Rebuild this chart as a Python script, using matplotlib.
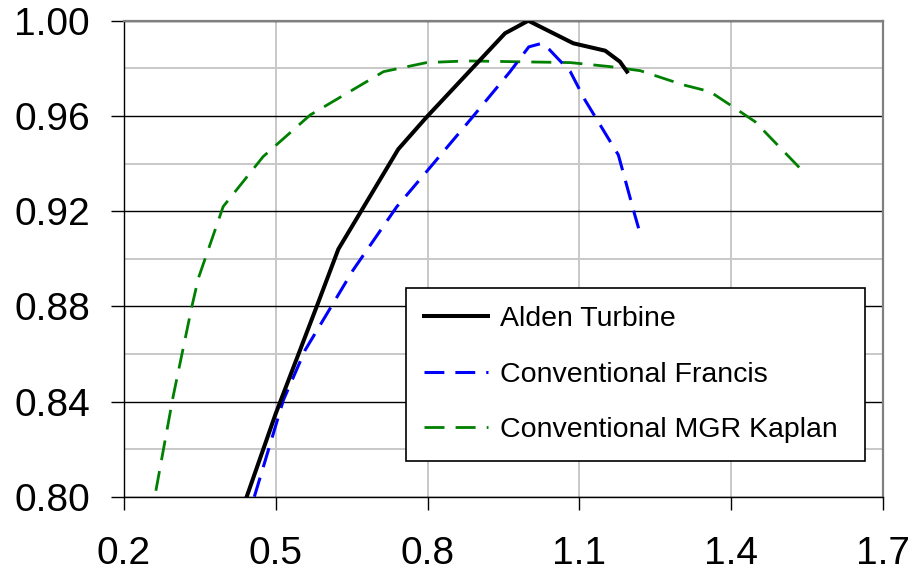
import matplotlib
matplotlib.use("Agg")
import matplotlib.pyplot as plt
from matplotlib.ticker import MultipleLocator

plt.rcParams['font.family'] = ['Liberation Sans', 'DejaVu Sans']

# Alden Turbine
alden_x = [0.4425, 0.50, 0.581, 0.6236, 0.742, 0.798, 0.953, 0.999, 1.088, 1.151, 1.180, 1.194]
alden_y = [0.800, 0.835, 0.880, 0.904, 0.946, 0.9595, 0.9947, 1.000, 0.9905, 0.9874, 0.9828, 0.9786]

# Conventional Francis
francis_x = [0.4576, 0.515, 0.558, 0.653, 0.739, 0.798, 0.884, 0.963, 1.000, 1.026, 1.040,
             1.082, 1.111, 1.177, 1.210, 1.217]
francis_y = [0.800, 0.8406, 0.8616, 0.8953, 0.9218, 0.9366, 0.9583, 0.9786, 0.989, 0.9905, 0.988,
             0.9786, 0.9667, 0.9436, 0.918, 0.9128]

# Conventional MGR Kaplan
kaplan_x = [0.263, 0.297, 0.334, 0.347, 0.396, 0.475, 0.568, 0.713, 0.798, 0.877, 1.082,
            1.161, 1.220, 1.306, 1.358, 1.398, 1.447, 1.536]
kaplan_y = [0.8025, 0.842, 0.8798, 0.8918, 0.9219, 0.9429, 0.9604, 0.9786, 0.9824, 0.9831, 0.9824,
            0.9807, 0.979, 0.973, 0.9702, 0.9646, 0.9576, 0.938]

xticks = [0.2, 0.5, 0.8, 1.1, 1.4, 1.7]
yticks = [0.80, 0.84, 0.88, 0.92, 0.96, 1.00]

fig = plt.figure(figsize=(9.13, 5.74), dpi=100)
ax = fig.add_axes([124 / 913, 1 - 496.7 / 574, 759 / 913, 476 / 574])

ax.plot(alden_x, alden_y, color='black', lw=2.9, label='Alden Turbine', zorder=5)
ax.plot(francis_x, francis_y, color='#0000ff', lw=2.2, dashes=(6.5, 3.6),
        label='Conventional Francis', zorder=4)
ax.plot(kaplan_x, kaplan_y, color='#008000', lw=2.0, dashes=(7.2, 4.0),
        label='Conventional MGR Kaplan', zorder=3)

ax.set_xlim(0.2, 1.7)
ax.set_ylim(0.80, 1.00)
ax.set_xticks(xticks)
ax.set_xticklabels([f"{v:.1f}" for v in xticks])
ax.set_yticks(yticks)
ax.set_yticklabels([f"{v:.2f}" for v in yticks])
ax.yaxis.set_minor_locator(MultipleLocator(0.02))

ax.tick_params(axis='both', which='major', direction='out', length=9.5, width=1.0,
               color='black', labelsize=28)
ax.tick_params(axis='y', which='major', pad=15)
ax.tick_params(axis='x', which='major', pad=19)
ax.tick_params(axis='y', which='minor', length=0)

ax.yaxis.grid(True, which='major', color='black', lw=1.0, zorder=1)
ax.yaxis.grid(True, which='minor', color='#c8c8c8', lw=1.4, zorder=1)
ax.xaxis.grid(True, which='major', color='#c8c8c8', lw=1.4, zorder=1)
ax.set_axisbelow(True)

for side in ['top', 'right']:
    ax.spines[side].set_color('#808080')
    ax.spines[side].set_linewidth(1.6)
for side in ['left', 'bottom']:
    ax.spines[side].set_color('black')
    ax.spines[side].set_linewidth(1.0)

leg = ax.legend(loc='lower left', bbox_to_anchor=(0.3715, 0.075, 0.6045, 0.363),
                mode='expand', fontsize=20.5, frameon=True, fancybox=False,
                handlelength=2.25, handletextpad=0.45, borderpad=0.62,
                labelspacing=1.04, borderaxespad=0.0)
leg.get_frame().set_edgecolor('black')
leg.get_frame().set_linewidth(1.2)
leg.get_frame().set_alpha(1.0)
leg.set_zorder(10)

fig.savefig("out.png", dpi=100)
